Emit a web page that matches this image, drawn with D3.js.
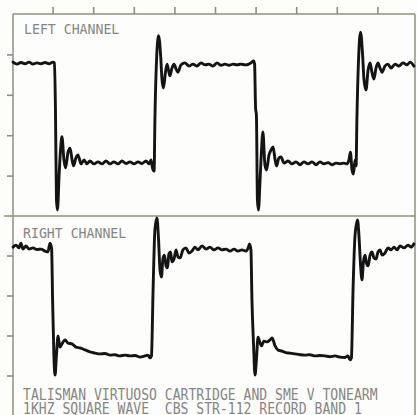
<!DOCTYPE html>
<html><head><meta charset="utf-8">
<script src="https://cdn.jsdelivr.net/npm/d3@7/dist/d3.min.js"></script>
<style>html,body{margin:0;padding:0;background:#fdfdfb;overflow:hidden}svg{display:block}</style>
</head><body><svg id="c" width="417" height="415"></svg>
<script>
// time in microseconds (0.2 ms / division), amplitude in vertical divisions from panel centre
const timeTicks = [200, 400, 600, 800, 1000, 1200, 1400, 1600, 1800];
const levelTicks = [-1.5, -0.5, 0.5, 1.5];
const channelLabels = ["LEFT CHANNEL", "RIGHT CHANNEL"];
const captionLines = [
  "TALISMAN VIRTUOSO CARTRIDGE AND SME V TONEARM",
  "1KHZ SQUARE WAVE  CBS STR-112 RECORD BAND 1"
];
const leftChannel = [
  [5,1.31],[25,1.26],[44,1.30],[64,1.27],[84,1.31],[103,1.26],[123,1.29],[143,1.27],[163,1.30],[182,1.27],[202,1.31],[209,1.29],
  [214,0.17],[219,-2.10],[224,-2.35],[232,-1.49],[239,-0.87],[246,-0.54],[256,-1.11],[264,-1.31],[276,-0.92],[286,-0.82],[296,-1.11],[303,-1.26],[315,-1.06],[325,-0.99],[340,-1.21],[355,-1.11],[369,-1.21],[384,-1.14],[404,-1.21],[424,-1.16],[443,-1.21],[463,-1.14],[483,-1.21],[502,-1.16],[522,-1.21],[542,-1.14],[562,-1.20],[581,-1.16],[601,-1.21],[621,-1.16],[640,-1.20],[660,-1.14],[675,-1.21],[685,-1.11],[692,-1.31],[700,-1.39],
  [704,-0.12],[712,1.36],[722,1.96],[732,1.49],[739,0.87],[746,0.67],[756,1.06],[764,1.26],[771,1.11],[778,0.97],[788,1.16],[798,1.26],[808,1.14],[818,1.06],[832,1.24],[852,1.29],[872,1.21],[892,1.26],[911,1.21],[931,1.29],[951,1.24],[970,1.26],[990,1.21],[1010,1.29],[1030,1.23],[1049,1.26],[1069,1.23],[1089,1.26],[1108,1.24],[1128,1.26],[1148,1.24],[1167,1.26],[1182,1.31],[1190,1.34],[1195,1.26],
  [1200,0.17],[1204,0.00],[1209,-2.10],[1214,-2.35],[1222,-1.61],[1229,-0.87],[1236,-0.42],[1246,-1.24],[1254,-1.36],[1266,-0.99],[1276,-0.87],[1286,-0.79],[1296,-1.11],[1303,-1.26],[1315,-1.06],[1325,-1.04],[1340,-1.19],[1360,-1.14],[1379,-1.21],[1399,-1.16],[1419,-1.23],[1438,-1.16],[1458,-1.21],[1478,-1.16],[1498,-1.23],[1517,-1.16],[1537,-1.21],[1557,-1.18],[1576,-1.23],[1596,-1.19],[1616,-1.21],[1635,-1.19],[1650,-1.21],[1660,-1.11],[1667,-0.92],[1675,-1.36],[1682,-1.46],[1690,-1.11],[1695,-1.26],
  [1699,-0.12],[1707,1.36],[1717,2.05],[1727,1.49],[1734,0.87],[1744,0.62],[1754,1.11],[1764,1.29],[1773,1.06],[1783,0.89],[1793,1.16],[1803,1.29],[1813,1.16],[1823,1.06],[1837,1.21],[1852,1.26],[1867,1.16],[1887,1.26],[1906,1.21],[1926,1.29],[1946,1.24],[1961,1.31],[1980,1.21]
];
const rightChannel = [
  [5,1.71],[20,1.76],[34,1.69],[44,1.81],[54,1.66],[69,1.74],[84,1.66],[103,1.69],[123,1.65],[143,1.66],[163,1.61],[177,1.59],[187,1.81],[195,1.69],
  [200,0.39],[207,-1.11],[212,-1.49],[219,-0.99],[227,-0.51],[236,-0.79],[246,-0.71],[261,-0.61],[276,-0.69],[296,-0.71],[315,-0.79],[335,-0.81],[360,-0.86],[384,-0.91],[409,-0.94],[433,-0.96],[458,-0.95],[483,-0.99],[507,-0.98],[532,-1.01],[557,-0.99],[581,-1.01],[606,-1.00],[631,-1.04],[655,-1.01],[670,-0.99],[680,-1.06],[687,-1.01],
  [695,0.64],[704,2.14],[714,2.44],[722,1.89],[729,1.14],[736,0.96],[744,1.44],[751,1.51],[759,1.24],[766,1.19],[773,1.54],[781,1.59],[788,1.34],[798,1.41],[808,1.64],[818,1.46],[828,1.44],[842,1.64],[857,1.69],[872,1.56],[887,1.61],[901,1.71],[916,1.64],[936,1.74],[956,1.66],[975,1.71],[995,1.64],[1015,1.69],[1034,1.64],[1054,1.66],[1074,1.61],[1094,1.66],[1113,1.61],[1133,1.64],[1153,1.61],[1165,1.71],[1170,1.79],[1177,1.64],
  [1182,0.39],[1190,-0.74],[1197,-1.49],[1204,-1.11],[1212,-0.54],[1222,-0.69],[1229,-0.76],[1241,-0.64],[1256,-0.66],[1271,-0.61],[1281,-0.56],[1296,-0.76],[1310,-0.86],[1330,-0.89],[1350,-0.93],[1369,-0.94],[1394,-0.96],[1419,-0.98],[1443,-0.99],[1468,-0.98],[1493,-1.01],[1517,-1.00],[1542,-1.01],[1566,-1.03],[1591,-1.01],[1616,-1.04],[1640,-1.05],[1655,-1.01],[1665,-1.11],[1672,-1.06],
  [1680,0.64],[1690,2.01],[1702,2.39],[1709,2.01],[1717,1.26],[1724,0.89],[1731,1.34],[1739,1.51],[1746,1.31],[1754,1.24],[1764,1.51],[1773,1.59],[1783,1.44],[1793,1.41],[1803,1.59],[1813,1.64],[1823,1.51],[1837,1.56],[1852,1.69],[1867,1.64],[1882,1.71],[1897,1.64],[1911,1.74],[1931,1.69],[1951,1.76],[1965,1.71],[1980,1.79]
];

const svg = d3.select("#c");
const frameColor = "#8e907f";
const traceColor = "#141414";
const textColor = "#858585";
const L = 13, R = 415, T = 14, MID = 216, B = 415;

const x = d3.scaleLinear().domain([0, 2000]).range([12, 418]);
const yTop = d3.scaleLinear().domain([-2.5, 2.5]).range([216, 14]);
const yBot = d3.scaleLinear().domain([-2.5, 2.5]).range([415.5, 215.5]);

svg.append("rect").attr("width", 417).attr("height", 415).attr("fill", "#fdfdfb");

// frame
const fr = svg.append("g").attr("stroke", frameColor).attr("stroke-width", 1.5).attr("fill", "none");
fr.append("line").attr("x1", L).attr("x2", R).attr("y1", T).attr("y2", T);
fr.append("line").attr("x1", L).attr("x2", L).attr("y1", T).attr("y2", B);
fr.append("line").attr("x1", R).attr("x2", R).attr("y1", T).attr("y2", B);
fr.append("line").attr("x1", 4).attr("x2", R).attr("y1", MID).attr("y2", MID);

function styleAxis(g) {
  g.select(".domain").remove();
  g.selectAll(".tick line").attr("stroke", frameColor).attr("stroke-width", 1.6);
  g.selectAll(".tick text").remove();
}
svg.append("g").attr("transform", `translate(0,${T})`)
  .call(d3.axisTop(x).tickValues(timeTicks).tickSize(7).tickFormat(""))
  .call(styleAxis);
svg.append("g").attr("transform", `translate(${L},0)`)
  .call(d3.axisLeft(yTop).tickValues(levelTicks).tickSize(6).tickFormat(""))
  .call(styleAxis);
svg.append("g").attr("transform", `translate(${L},0)`)
  .call(d3.axisLeft(yBot).tickValues(levelTicks).tickSize(6).tickFormat(""))
  .call(styleAxis);

// traces
const lineTop = d3.line().x(d => x(d[0])).y(d => yTop(d[1])).curve(d3.curveMonotoneX);
const lineBot = d3.line().x(d => x(d[0])).y(d => yBot(d[1])).curve(d3.curveMonotoneX);
[[leftChannel, lineTop], [rightChannel, lineBot]].forEach(([data, gen]) => {
  svg.append("path").datum(data).attr("d", gen)
    .attr("fill", "none").attr("stroke", traceColor).attr("stroke-width", 2.9)
    .attr("stroke-linejoin", "round").attr("stroke-linecap", "round");
});

// labels
const font = "'DejaVu Sans Mono', 'Liberation Mono', monospace";
const labelPos = [[24, 33.8], [23, 237.5]];
channelLabels.forEach((t, i) => {
  svg.append("text").attr("transform", `translate(${labelPos[i][0]},${labelPos[i][1]}) scale(1,1.1)`)
    .attr("font-family", font).attr("font-size", 13.2).attr("fill", textColor).text(t);
});
const capPos = [399.5, 413.5];
captionLines.forEach((t, i) => {
  svg.append("text").attr("transform", `translate(23,${capPos[i]}) scale(1,1.25)`)
    .attr("font-family", font).attr("font-size", 13.1).attr("fill", textColor)
    .attr("xml:space", "preserve").style("white-space", "pre").text(t);
});
</script>
</body></html>
